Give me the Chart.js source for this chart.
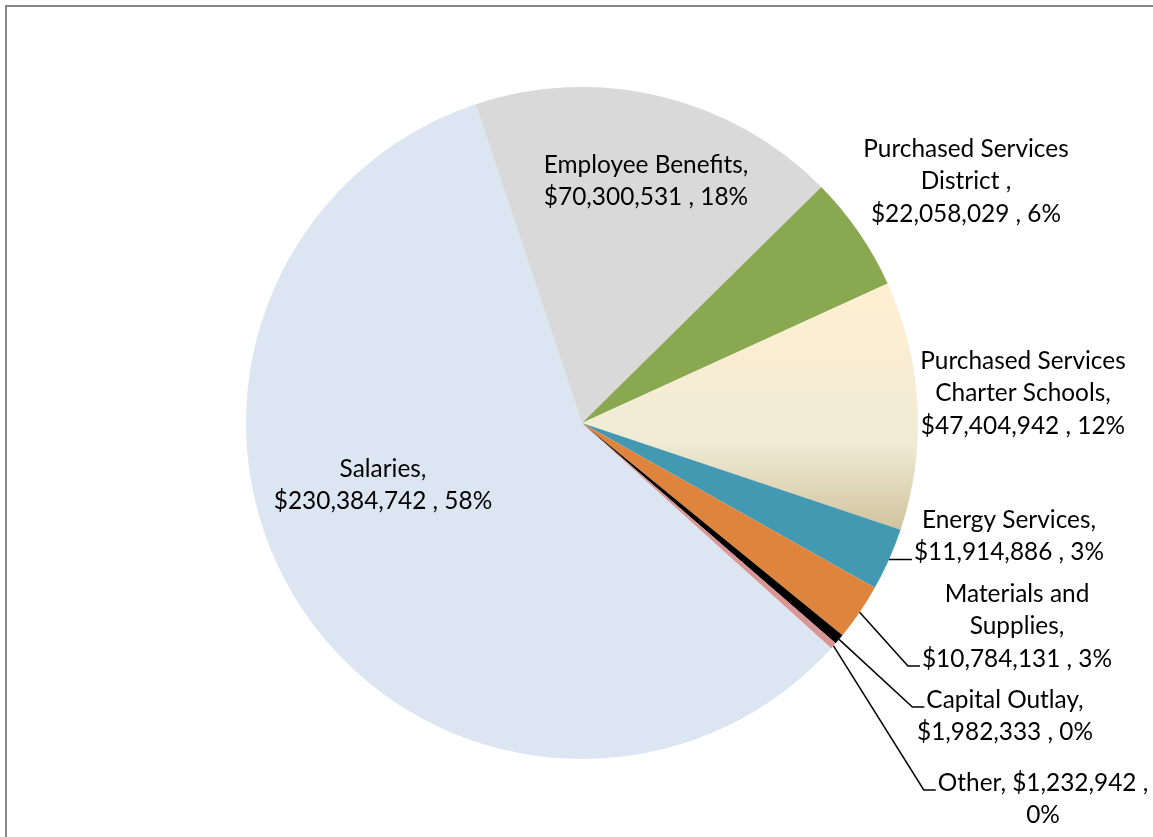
<!DOCTYPE html>
<html>
<head>
<meta charset="utf-8">
<title>General Fund Expenditures</title>
<script src="https://cdn.jsdelivr.net/npm/chart.js@4.4.1/dist/chart.umd.min.js"></script>
<style>
  html, body { margin: 0; padding: 0; background: #fff; }
  canvas { display: block; }
</style>
</head>
<body>
<canvas id="pie" width="1153" height="837"></canvas>
<script>
// Expenditure categories and amounts
const categories = [
  'Salaries',
  'Employee Benefits',
  'Purchased Services District ',
  'Purchased Services Charter Schools',
  'Energy Services',
  'Materials and Supplies',
  'Capital Outlay',
  'Other'
];
const amounts = [230384742, 70300531, 22058029, 47404942, 11914886, 10784131, 1982333, 1232942];
const pctText = ['58%', '18%', '6%', '12%', '3%', '3%', '0%', '0%'];

const sliceColors = ['#DCE6F2', '#D9D9D9', '#8AA84F', null, '#4299B1', '#DF843D', '#000000', '#D99694'];
// parchment fill for the charter schools slice
const parchmentStops = [[0, '#FFEFD1'], [0.64, '#F0EBD5'], [1, '#D1C39F']];

// where each data label sits: centre of its first line, words per line,
// and which line (if any) the leader line hooks onto
const labelSpots = [
  { x: 383,  y: 469, words: [1, 3] },
  { x: 646,  y: 165, words: [2, 3] },
  { x: 966,  y: 149, words: [2, 2, 3] },
  { x: 1023, y: 361, words: [2, 2, 3] },
  { x: 1009, y: 520, words: [2, 3],    leader: 1 },
  { x: 1017, y: 594, words: [2, 1, 3], leader: 2 },
  { x: 1005, y: 700, words: [2, 3],    leader: 0 },
  { x: 1043, y: 783, words: [3, 1],    leader: 0 }
];

const START_ANGLE = 132.1;
const FONT = '24.4px Lato';
const LINE_H = 32.5;

function labelLines(i) {
  const text = categories[i] + ', $' + amounts[i].toLocaleString('en-US') + ' , ' + pctText[i];
  const words = text.split(/\s+/);
  const lines = [];
  let k = 0;
  labelSpots[i].words.forEach(n => {
    lines.push(words.slice(k, k + n).join(' '));
    k += n;
  });
  return lines;
}

// vertical gradient spanning the slice's own bounding box
function parchment(chart, idx) {
  const area = chart.chartArea;
  if (!area) return parchmentStops[1][1];
  const cx = (area.left + area.right) / 2;
  const cy = (area.top + area.bottom) / 2;
  const r = Math.min(area.right - area.left, area.bottom - area.top) / 2;
  const total = amounts.reduce((a, b) => a + b, 0);
  const before = amounts.slice(0, idx).reduce((a, b) => a + b, 0);
  const a0 = START_ANGLE - 90 + before / total * 360;
  const a1 = a0 + amounts[idx] / total * 360;
  let yMin = cy, yMax = cy;
  for (let a = a0; a <= a1; a += 0.5) {
    const y = cy + r * Math.sin(a * Math.PI / 180);
    yMin = Math.min(yMin, y);
    yMax = Math.max(yMax, y);
  }
  const g = chart.ctx.createLinearGradient(0, yMin, 0, yMax);
  parchmentStops.forEach(s => g.addColorStop(s[0], s[1]));
  return g;
}

const frame = {
  id: 'frame',
  beforeDraw(chart) {
    const ctx = chart.ctx;
    ctx.save();
    ctx.strokeStyle = '#878787';
    ctx.lineWidth = 2;
    ctx.beginPath();
    ctx.moveTo(6, chart.height);
    ctx.lineTo(6, 6);
    ctx.lineTo(chart.width, 6);
    ctx.stroke();
    ctx.restore();
  }
};

const dataLabels = {
  id: 'dataLabels',
  afterDatasetsDraw(chart) {
    const ctx = chart.ctx;
    const arcs = chart.getDatasetMeta(0).data;
    ctx.save();
    ctx.font = FONT;
    ctx.fillStyle = '#000';
    ctx.textAlign = 'center';
    ctx.textBaseline = 'middle';
    arcs.forEach((arc, i) => {
      const spot = labelSpots[i];
      const lines = labelLines(i);
      lines.forEach((ln, j) => ctx.fillText(ln, spot.x, spot.y + j * LINE_H));

      if (spot.leader === undefined) return;
      const p = arc.getProps(['x', 'y', 'startAngle', 'endAngle', 'outerRadius'], true);
      const mid = (p.startAngle + p.endAngle) / 2;
      const sx = p.x + p.outerRadius * Math.cos(mid);
      const sy = p.y + p.outerRadius * Math.sin(mid);
      const w = ctx.measureText(lines[spot.leader]).width;
      const ex = spot.x - w / 2 - 2;
      const ey = spot.y + spot.leader * LINE_H + 7;
      ctx.beginPath();
      ctx.strokeStyle = '#000';
      ctx.lineWidth = 1.5;
      ctx.moveTo(sx, sy);
      ctx.lineTo(ex - 12, ey);
      ctx.lineTo(ex, ey);
      ctx.stroke();
    });
    ctx.restore();
  }
};

new Chart(document.getElementById('pie'), {
  type: 'pie',
  data: {
    labels: categories,
    datasets: [{
      data: amounts,
      backgroundColor: c => (c.dataIndex === 3 ? parchment(c.chart, 3) : sliceColors[c.dataIndex]),
      borderWidth: 0
    }]
  },
  options: {
    responsive: false,
    animation: false,
    events: [],
    rotation: START_ANGLE,
    layout: { padding: { left: 246, right: 235, top: 87, bottom: 78 } },
    plugins: {
      legend: { display: false },
      tooltip: { enabled: false }
    }
  },
  plugins: [frame, dataLabels]
});
</script>
</body>
</html>
